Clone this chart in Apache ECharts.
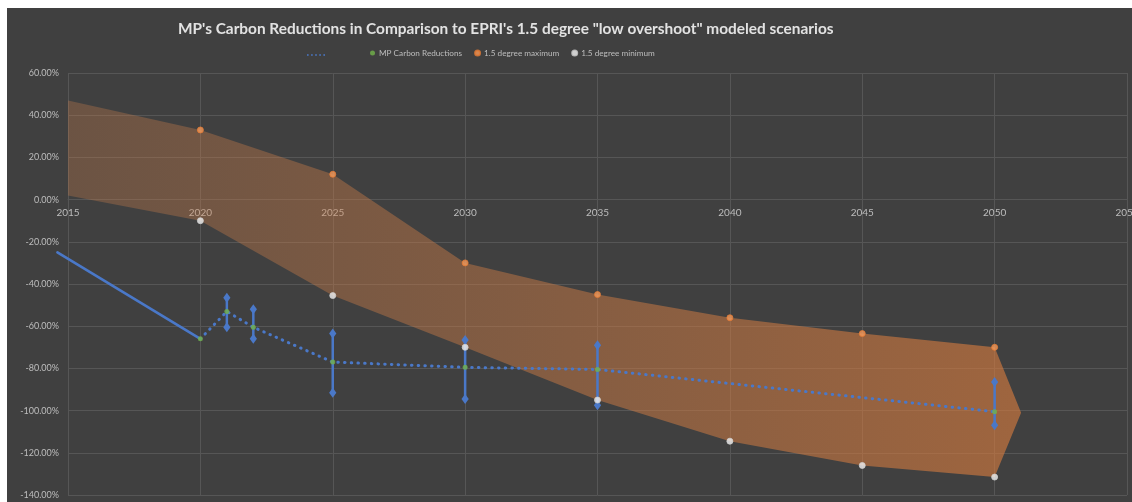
<!DOCTYPE html>
<html>
<head>
<meta charset="utf-8">
<script src="https://cdn.jsdelivr.net/npm/echarts@6/dist/echarts.min.js"></script>
<style>
  html, body { margin: 0; padding: 0; background: #ffffff; }
  #chart { position: absolute; left: 7px; top: 8px; width: 1125px; height: 494px; }
</style>
</head>
<body>
<div id="chart"></div>
<script>
// ---- data (percent) ----
const bandYears = [2015, 2020, 2025, 2030, 2035, 2040, 2045, 2050, 2051];
const maxVals   = [47, 33, 12, -30, -45, -56, -63.5, -70, -101];
const minVals   = [2, -10, -45.5, -70, -95, -114.5, -126, -131.5, -101];
const markerYears = [2020, 2025, 2030, 2035, 2040, 2045, 2050];
const maxMarkers  = [33, 12, -30, -45, -56, -63.5, -70];
const minMarkers  = [-10, -45.5, -70, -95, -114.5, -126, -131.5];

const mpYears = [2020, 2021, 2022, 2025, 2030, 2035, 2050];
const mpVals  = [-66, -53, -60.5, -77, -79.5, -80.5, -100.5];
const errYears = [2021, 2022, 2025, 2030, 2035, 2050];
const errHigh  = [-46.5, -52, -63.5, -66.5, -69, -86.5];
const errLow   = [-60.5, -66, -91.5, -94.5, -97.5, -107];

const trendYears = [2014.6, 2020];
const trendVals  = [-25, -66];

const xTicks = [2015, 2020, 2025, 2030, 2035, 2040, 2045, 2050, 2055];
const yMin = -140, yMax = 60;

const titleText = 'MP\'s Carbon Reductions in Comparison to EPRI\'s 1.5 degree "low overshoot" modeled scenarios';

const zip = (a, b) => a.map((v, i) => [v, b[i]]);

const chart = echarts.init(document.getElementById('chart'));
const gridColor = '#565656';
const labelColor = '#bdbdbd';
const blue = '#4a78c8';
const font = 'Lato, "Open Sans", sans-serif';

const gridTop = 65, gridBottom = 7, chartH = 494;
const plotH = chartH - gridTop - gridBottom;
const zeroOffset = -(plotH * (0 - yMin) / (yMax - yMin));

const option = {
  backgroundColor: '#404040',
  animation: false,
  title: {
    text: titleText,
    left: 166, top: 9,
    textStyle: { color: '#e2e2e2', fontSize: 15.4, fontWeight: 'bold', fontFamily: font }
  },
  legend: [
    {
      left: 295, top: 38,
      itemWidth: 18, itemHeight: 2,
      data: [{ name: ' ', icon: 'path://M0 0h2v2H0z M5 0h2v2H5z M10 0h2v2h-2z M15 0h2v2h-2z M20 0h2v2h-2z' }],
      textStyle: { color: labelColor, fontSize: 8.2, fontFamily: font }
    },
    {
      left: 358, top: 36,
      itemWidth: 5, itemHeight: 5, itemGap: 12,
      data: [
        { name: 'MP Carbon Reductions', icon: 'circle' },
        { name: '1.5 degree maximum', icon: 'circle' },
        { name: '1.5 degree minimum', icon: 'circle' }
      ],
      textStyle: { color: labelColor, fontSize: 8.2, fontFamily: font, padding: [0, 0, 0, -1] }
    }
  ],
  grid: { left: 61, right: 5, top: gridTop, bottom: gridBottom, containLabel: false, outerBoundsMode: 'none' },
  xAxis: {
    type: 'value', min: xTicks[0], max: xTicks[xTicks.length - 1], interval: 5,
    offset: zeroOffset,
    axisLine: { onZero: false, lineStyle: { color: gridColor, width: 1 } },
    axisTick: { show: false },
    axisLabel: { color: labelColor, fontSize: 10, fontFamily: font, margin: 8, showMaxLabel: true,
                 formatter: v => String(v) },
    splitLine: { show: true, lineStyle: { color: gridColor, width: 1 } }
  },
  yAxis: {
    type: 'value', min: yMin, max: yMax, interval: 20,
    axisLine: { show: false },
    axisTick: { show: false },
    axisLabel: { color: labelColor, fontSize: 9, fontFamily: font, margin: 9,
                 formatter: v => v.toFixed(2) + '%' },
    splitLine: { show: true, lineStyle: { color: gridColor, width: 1 } }
  },
  series: [
    {
      type: 'custom', name: 'band', silent: true, z: 1,
      data: [[bandYears[0], maxVals[0]]],
      encode: { x: 0, y: 1 },
      renderItem: function (params, api) {
        const pts = [];
        for (let i = 0; i < bandYears.length; i++) pts.push(api.coord([bandYears[i], maxVals[i]]));
        for (let i = bandYears.length - 1; i >= 0; i--) pts.push(api.coord([bandYears[i], minVals[i]]));
        return {
          type: 'polygon',
          shape: { points: pts },
          style: {
            fill: new echarts.graphic.LinearGradient(0, 0, 1, 0, [
              { offset: 0, color: 'rgba(200,125,75,0.32)' },
              { offset: 1, color: 'rgba(212,122,62,0.64)' }
            ])
          }
        };
      }
    },
    {
      // solid trend line (extends slightly left of the plot area, as in the original)
      type: 'custom', name: 'trend', z: 3, silent: true, clip: false,
      data: [[trendYears[0], trendVals[0]]],
      encode: { x: 0, y: 1 },
      renderItem: function (params, api) {
        const pts = trendYears.map((y, i) => api.coord([y, trendVals[i]]));
        return {
          type: 'polyline',
          shape: { points: pts },
          style: { stroke: blue, lineWidth: 2.6, fill: null, lineCap: 'round' }
        };
      }
    },
    {
      type: 'line', name: ' ', z: 3,
      data: zip(mpYears, mpVals),
      symbol: 'none',
      itemStyle: { color: blue },
      lineStyle: { color: blue, width: 3, type: [0.5, 6.2], cap: 'round' }
    },
    {
      type: 'custom', name: 'err', z: 4,
      data: errYears.map((y, i) => [y, errLow[i], errHigh[i]]),
      encode: { x: 0, y: [1, 2] },
      renderItem: function (params, api) {
        const x = api.value(0);
        const p1 = api.coord([x, api.value(2)]);
        const p2 = api.coord([x, api.value(1)]);
        const dia = (p) => ({
          type: 'polygon',
          shape: { points: [[p[0], p[1] - 5], [p[0] + 3.6, p[1]], [p[0], p[1] + 5], [p[0] - 3.6, p[1]]] },
          style: { fill: blue }
        });
        return {
          type: 'group',
          children: [
            { type: 'line', shape: { x1: p1[0], y1: p1[1], x2: p2[0], y2: p2[1] },
              style: { stroke: blue, lineWidth: 2.5 } },
            dia(p1), dia(p2)
          ]
        };
      }
    },
    {
      type: 'scatter', name: 'MP Carbon Reductions', z: 5,
      data: zip(mpYears, mpVals),
      symbol: 'circle', symbolSize: 5,
      itemStyle: { color: '#72b34a' }
    },
    {
      type: 'scatter', name: '1.5 degree maximum', z: 5,
      data: zip(markerYears, maxMarkers),
      symbol: 'circle', symbolSize: 6,
      itemStyle: { color: '#f59a5a', borderColor: '#e47b34', borderWidth: 1 }
    },
    {
      type: 'scatter', name: '1.5 degree minimum', z: 5,
      data: zip(markerYears, minMarkers),
      symbol: 'circle', symbolSize: 6,
      itemStyle: { color: '#f2f2f2', borderColor: '#cfcfcf', borderWidth: 1 }
    }
  ]
};
chart.setOption(option);
</script>
</body>
</html>
